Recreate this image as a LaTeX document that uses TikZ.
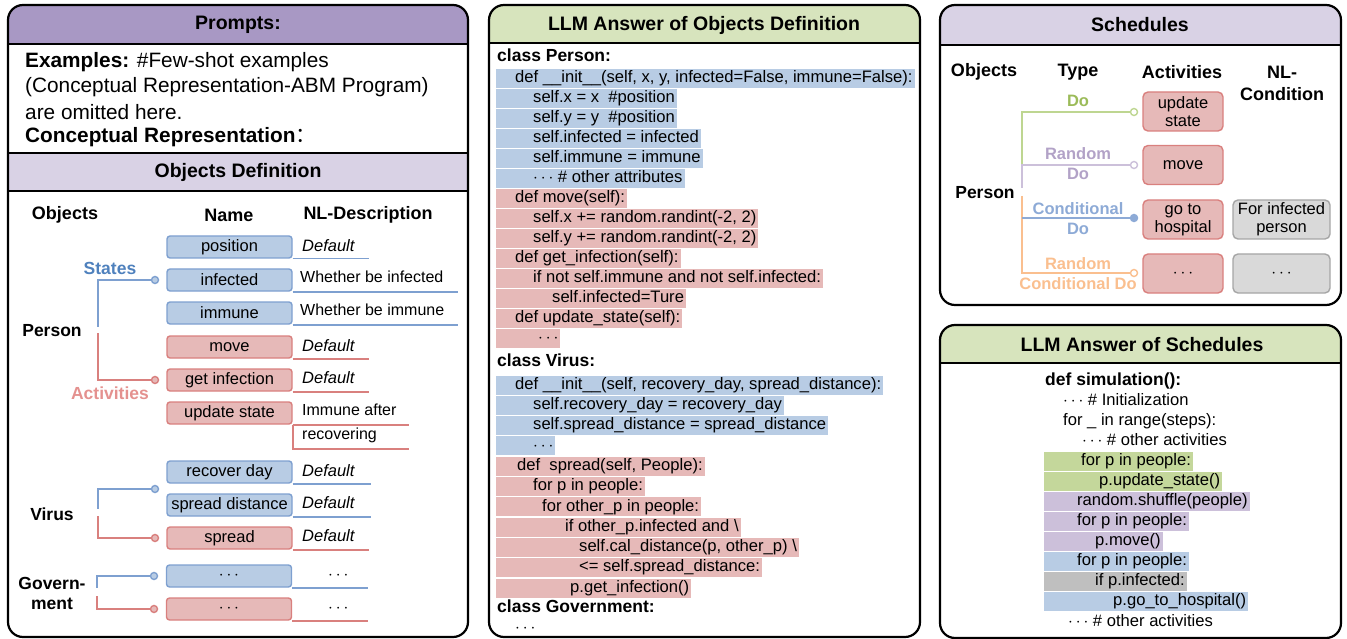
\documentclass[tikz,border=0pt]{standalone}
\usepackage{fontspec}
\setmainfont{Liberation Sans}
\newfontfamily\cjk{Noto Sans CJK SC}

\definecolor{hdrpurple}{RGB}{168,152,196}
\definecolor{lightpurple}{RGB}{217,210,229}
\definecolor{hdrgreen}{RGB}{215,228,189}
\definecolor{bluefill}{RGB}{184,204,228}
\definecolor{blueline}{RGB}{126,160,208}
\definecolor{redfill}{RGB}{230,185,184}
\definecolor{redline}{RGB}{217,128,126}
\definecolor{statesblue}{RGB}{79,129,189}
\definecolor{actred}{RGB}{228,145,143}
\definecolor{greenhl}{RGB}{196,215,155}
\definecolor{purplehl}{RGB}{204,192,218}
\definecolor{grayhl}{RGB}{191,191,191}
\definecolor{grayfill}{RGB}{217,217,217}
\definecolor{grayline}{RGB}{166,166,166}
\definecolor{dogreen}{RGB}{155,187,89}
\definecolor{dogreenline}{RGB}{190,214,145}
\definecolor{rdpurple}{RGB}{178,162,199}
\definecolor{rdpurpleline}{RGB}{204,192,218}
\definecolor{cdblue}{RGB}{141,170,214}
\definecolor{rcorange}{RGB}{250,191,143}

\tikzset{
  panel/.style={draw=black, line width=2.2pt, rounded corners=15pt},
  divider/.style={line width=2pt},
  title/.style={font=\fontsize{19.5}{22}\selectfont\bfseries},
  colhead/.style={font=\fontsize{18}{22}\selectfont\bfseries},
  obj/.style={font=\fontsize{17.5}{20}\selectfont\bfseries, align=center},
  ptext/.style={anchor=west, inner sep=0pt, font=\fontsize{20.8}{25}\selectfont},
  namebox/.style={rounded corners=3pt, line width=1.4pt, minimum width=125pt,
    minimum height=22pt, inner sep=0pt, font=\fontsize{16.5}{20}\selectfont},
  sbox/.style={namebox, fill=bluefill, draw=blueline},
  abox/.style={namebox, fill=redfill, draw=redline},
  actbox/.style={abox, minimum width=80pt, minimum height=39pt, rounded corners=5pt,
    align=center, font=\fontsize{16.5}{18}\selectfont},
  condbox/.style={actbox, fill=grayfill, draw=grayline, minimum width=97pt},
  desc/.style={anchor=west, inner sep=0pt, font=\fontsize{16}{20}\selectfont},
  dflt/.style={desc, font=\fontsize{16.5}{20}\selectfont\itshape},
  bline/.style={draw=blueline, line width=1.6pt},
  rline/.style={draw=redline, line width=1.6pt},
  bdot/.style={fill=bluefill, draw=blueline, line width=1.4pt},
  rdot/.style={fill=redfill, draw=redline, line width=1.4pt},
  code/.style={anchor=west, inner xsep=0pt, inner ysep=0pt, minimum height=19pt,
    text height=12.5pt, text depth=4pt, font=\fontsize{16.6}{20}\selectfont,
    execute at end node=\hspace*{2pt}},
  codeh/.style={code, font=\fontsize{17.5}{20}\selectfont\bfseries},
  cblue/.style={code, fill=bluefill},
  cred/.style={code, fill=redfill},
  cgreen/.style={code, fill=greenhl},
  cpurple/.style={code, fill=purplehl},
  cgray/.style={code, fill=grayhl},
  tlabel/.style={align=center, font=\fontsize{16.5}{20}\selectfont\bfseries},
}

\begin{document}
\begin{tikzpicture}[x=1pt,y=-1pt]
\useasboundingbox (0,0) rectangle (1347,639);

% header bands
\begin{scope}
  \clip[rounded corners=15pt] (8,5) rectangle (468,637);
  \fill[hdrpurple] (8,5) rectangle (468,44);
  \fill[lightpurple] (8,153) rectangle (468,191);
\end{scope}
\begin{scope}
  \clip[rounded corners=15pt] (489,5) rectangle (920,637);
  \fill[hdrgreen] (489,5) rectangle (920,43);
\end{scope}
\begin{scope}
  \clip[rounded corners=15pt] (940,5) rectangle (1341,305);
  \fill[lightpurple] (940,5) rectangle (1341,45);
\end{scope}
\begin{scope}
  \clip[rounded corners=15pt] (940,325) rectangle (1341,638);
  \fill[hdrgreen] (940,325) rectangle (1341,363);
\end{scope}

\draw[divider] (8,44) -- (468,44);
\draw[divider] (8,153) -- (468,153);
\draw[divider] (8,191) -- (468,191);
\draw[divider] (489,43) -- (920,43);
\draw[divider] (940,45) -- (1341,45);
\draw[divider] (940,363) -- (1341,363);

\draw[panel] (8,5) rectangle (468,637);
\draw[panel] (489,5) rectangle (920,637);
\draw[panel] (940,5) rectangle (1341,305);
\draw[panel] (940,325) rectangle (1341,638);

% prompts
\node[title] (prompts) at (238,25) {Prompts:};
\node[ptext] (ex1) at (25,62) {\textbf{Examples:} \#Few-shot examples};
\node[ptext] (ex2) at (25,87) {(Conceptual Representation-ABM Program)};
\node[ptext] (ex3) at (25,112) {are omitted here.};
\node[ptext] (ex4) at (25,137) {\textbf{Conceptual Representation}{\cjk ：}};
\node[title] (objdef) at (238,172) {Objects Definition};

\node[colhead] (hObj) at (65,215) {Objects};
\node[colhead] (hName) at (229,215) {Name};
\node[colhead] (hDesc) at (368,215) {NL-Description};

\node[sbox] (position) at (229.5,247) {position};
\node[sbox] (infected) at (229.5,280) {infected};
\node[sbox] (immune) at (229.5,313) {immune};
\node[abox] (move) at (229.5,347) {move};
\node[abox] (getinf) at (229.5,380) {get infection};
\node[abox] (update) at (229.5,413) {update state};
\node[sbox] (recday) at (229.5,472) {recover day};
\node[sbox] (spdist) at (229.5,505) {spread distance};
\node[abox] (spread) at (229.5,538) {spread};
\node[sbox] (gstate) at (229,576) {$\cdots$};
\node[abox] (gact) at (229,609) {$\cdots$};

\node[dflt] (dPos) at (302,246) {Default};
\node[desc] (dInf) at (300,277) {Whether be infected};
\node[desc] (dImm) at (300,310) {Whether be immune};
\node[dflt] (dMove) at (302,346) {Default};
\node[dflt] (dGet) at (302,378) {Default};
\node[desc] (dUpd1) at (302,410) {Immune after};
\node[desc] (dUpd2) at (302,435) {recovering};
\node[dflt] (dRec) at (302,471) {Default};
\node[dflt] (dDist) at (302,503) {Default};
\node[dflt] (dSpr) at (302,536) {Default};
\node[desc] (dGs) at (328,576) {$\cdots$};
\node[desc] (dGa) at (328,609) {$\cdots$};

\draw[bline] (position.south east) -- ++(76,0);
\draw[bline] (infected.south east) -- ++(165,0);
\draw[bline] (immune.south east) -- ++(165,0);
\draw[rline] (move.south east) -- ++(76,0);
\draw[rline] (getinf.south east) -- ++(76,0);
\draw[rline] (update.south east) -- ++(116,0);
\draw[rline] (update.south east) -- ++(0,24) -- ++(116,0);
\draw[bline] (recday.south east) -- ++(78,0);
\draw[bline] (spdist.south east) -- ++(78,0);
\draw[rline] (spread.south east) -- ++(76,0);
\draw[bline] (gstate.south east) -- ++(76,0);
\draw[rline] (gact.south east) -- ++(76,0);

% objects tree
\node[obj] (person) at (52,331) {Person};
\node[obj, text=statesblue] (lStates) at (110,268) {States};
\node[obj, text=actred] (lActs) at (110,393) {Activities};
\node[obj] (virus) at (52,514) {Virus};
\node[obj] (gov) at (52,593) {Govern-\\ment};

\coordinate (dS) at (155,280);
\coordinate (eS) at (98,327);
\coordinate (dA) at (155,380);
\coordinate (eA) at (98,333);
\coordinate (dVS) at (155,489);
\coordinate (eVS) at (98,509);
\coordinate (dVA) at (155,538);
\coordinate (eVA) at (98,516);
\coordinate (dGS) at (154,576);
\coordinate (eGS) at (97,588);
\coordinate (dGA) at (154,609);
\coordinate (eGA) at (97,596);

\draw[bline] (dS) -| (eS);
\draw[rline] (eA) |- (dA);
\draw[bline] (dVS) -| (eVS);
\draw[rline] (eVA) |- (dVA);
\draw[bline] (dGS) -| (eGS);
\draw[rline] (eGA) |- (dGA);

\filldraw[bdot] (dS) circle (3.5pt);
\filldraw[rdot] (dA) circle (3.5pt);
\filldraw[bdot] (dVS) circle (3.5pt);
\filldraw[rdot] (dVA) circle (3.5pt);
\filldraw[bdot] (dGS) circle (3.5pt);
\filldraw[rdot] (dGA) circle (3.5pt);

% llm answer of objects
\node[title] (llmobj) at (704,25) {LLM Answer of Objects Definition};
\node[codeh] (cPerson) at (497,57) {class Person:};
\node[cblue] (p1) at (496,78.5) {\hspace*{19pt}def \_\_init\_\_(self, x, y, infected=False, immune=False):};
\node[cblue] (p2) at (496,98.5) {\hspace*{37pt}self.x = x\ \ \#position};
\node[cblue] (p3) at (496,118.5) {\hspace*{37pt}self.y = y\ \ \#position};
\node[cblue] (p4) at (496,138.5) {\hspace*{37pt}self.infected = infected};
\node[cblue] (p5) at (496,158.5) {\hspace*{37pt}self.immune = immune};
\node[cblue] (p6) at (496,178.5) {\hspace*{37pt}$\cdots$ \# other attributes};
\node[cred] (p7) at (496,198.5) {\hspace*{19pt}def move(self):};
\node[cred] (p8) at (496,218.5) {\hspace*{37pt}self.x += random.randint(-2, 2)};
\node[cred] (p9) at (496,238.5) {\hspace*{37pt}self.y += random.randint(-2, 2)};
\node[cred] (p10) at (496,258.5) {\hspace*{19pt}def get\_infection(self):};
\node[cred] (p11) at (496,278.5) {\hspace*{37pt}if not self.immune and not self.infected:};
\node[cred] (p12) at (496,298.5) {\hspace*{56pt}self.infected=Ture};
\node[cred] (p13) at (496,318.5) {\hspace*{19pt}def update\_state(self):};
\node[cred] (p14) at (496,338.5) {\hspace*{42pt}$\cdots$};

\node[codeh] (cVirus) at (497,362) {class Virus:};
\node[cblue] (v1) at (496,385) {\hspace*{19pt}def \_\_init\_\_(self, recovery\_day, spread\_distance):};
\node[cblue] (v2) at (496,405.3) {\hspace*{37pt}self.recovery\_day = recovery\_day};
\node[cblue] (v3) at (496,425.6) {\hspace*{37pt}self.spread\_distance = spread\_distance};
\node[cblue] (v4) at (496,445.9) {\hspace*{37pt}$\cdots$};
\node[cred] (v5) at (496,466.2) {\hspace*{21pt}def\ \ spread(self, People):};
\node[cred] (v6) at (496,486.5) {\hspace*{37pt}for p in people:};
\node[cred] (v7) at (496,506.8) {\hspace*{46pt}for other\_p in people:};
\node[cred] (v8) at (496,527.1) {\hspace*{69pt}if other\_p.infected and \textbackslash};
\node[cred] (v9) at (496,547.4) {\hspace*{83pt}self.cal\_distance(p, other\_p) \textbackslash};
\node[cred] (v10) at (496,567.7) {\hspace*{83pt}<= self.spread\_distance:};
\node[cred] (v11) at (496,588) {\hspace*{74pt}p.get\_infection()};
\node[codeh] (cGov) at (497,608) {class Government:};
\node[code] (g1) at (496,628) {\hspace*{19pt}$\cdots$};

% schedules
\node[title] (sched) at (1140,25) {Schedules};
\node[colhead] (hsObj) at (984,72) {Objects};
\node[colhead] (hsType) at (1078,72) {Type};
\node[colhead] (hsAct) at (1182,72) {Activities};
\node[colhead, align=center] (hsCond) at (1282,83) {NL-\\Condition};

\node[obj] (sPerson) at (985,193) {Person};

\node[actbox] (aUpd) at (1183,111.5) {update\\state};
\node[actbox] (aMove) at (1183,165) {move};
\node[actbox] (aHosp) at (1183,219.5) {go to\\hospital};
\node[actbox] (aMore) at (1183,273.5) {$\cdots$};
\node[condbox] (cInf) at (1281.5,219.5) {For infected\\person};
\node[condbox] (cMore) at (1281.5,273.5) {$\cdots$};

\node[tlabel, text=dogreen] (tDo) at (1078,101) {Do};
\node[tlabel, text=rdpurple] (tRd) at (1078,164) {Random\\Do};
\node[tlabel, text=cdblue] (tCd) at (1078,219) {Conditional\\Do};
\node[tlabel, text=rcorange] (tRc) at (1078,274) {Random\\Conditional Do};

\coordinate (kDo) at (1134,112);
\coordinate (kRd) at (1134,165);
\coordinate (kCd) at (1134,218);
\coordinate (kRc) at (1134,273);
\coordinate (jRd) at (1022,165);
\coordinate (jEnd) at (1022,188);
\coordinate (jTop) at (1022,196);
\coordinate (jCd) at (1022,218);

\draw[dogreenline, line width=1.6pt] (kDo) -| (jRd);
\draw[rdpurpleline, line width=1.6pt] (kRd) -- (jRd) -- (jEnd);
\draw[rcorange, line width=1.6pt] (jTop) |- (kRc);
\draw[cdblue, line width=1.6pt] (jCd) -- (kCd);

\filldraw[fill=white, draw=dogreenline, line width=1.4pt] (kDo) circle (3.5pt);
\filldraw[fill=white, draw=rdpurpleline, line width=1.4pt] (kRd) circle (3.5pt);
\filldraw[fill=cdblue, draw=cdblue, line width=1.4pt] (kCd) circle (3.5pt);
\filldraw[fill=white, draw=rcorange, line width=1.4pt] (kRc) circle (3.5pt);

% llm answer of schedules
\node[title] (llmsch) at (1142,345) {LLM Answer of Schedules};
\node[codeh] (sDef) at (1045,381) {def simulation():};
\node[code] (s0a) at (1044,401) {\hspace*{19pt}$\cdots$ \# Initialization};
\node[code] (s0b) at (1044,421) {\hspace*{19pt}for \_ in range(steps):};
\node[code] (s0c) at (1044,441) {\hspace*{38pt}$\cdots$ \# other activities};
\node[cgreen] (s1) at (1044,461.5) {\hspace*{37pt}for p in people:};
\node[cgreen] (s2) at (1044,481.5) {\hspace*{55pt}p.update\_state()};
\node[cpurple] (s3) at (1044,501.5) {\hspace*{33pt}random.shuffle(people)};
\node[cpurple] (s4) at (1044,521.5) {\hspace*{33pt}for p in people:};
\node[cpurple] (s5) at (1044,541.5) {\hspace*{51pt}p.move()};
\node[cblue] (s6) at (1044,561.5) {\hspace*{33pt}for p in people:};
\node[cgray] (s7) at (1044,581.5) {\hspace*{51pt}if p.infected:};
\node[cblue] (s8) at (1044,601.5) {\hspace*{69pt}p.go\_to\_hospital()};
\node[code] (s0d) at (1044,622) {\hspace*{24pt}$\cdots$ \# other activities};

\end{tikzpicture}
\end{document}
